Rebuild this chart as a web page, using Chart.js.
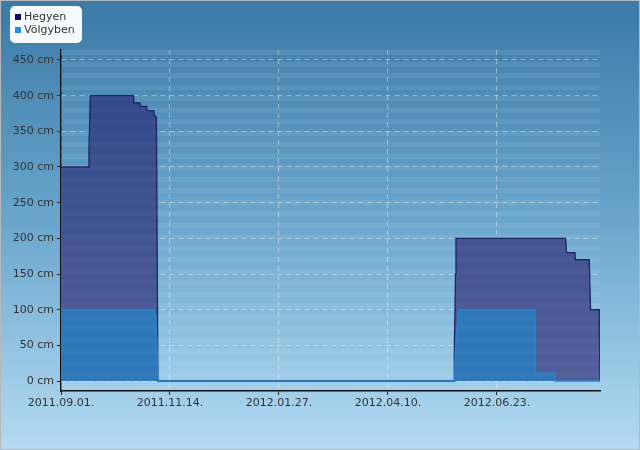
<!DOCTYPE html>
<html>
<head>
<meta charset="utf-8">
<style>
  html, body { margin: 0; padding: 0; background: #fff; }
  #wrap { width: 640px; height: 450px; }
</style>
<script src="https://cdn.jsdelivr.net/npm/chart.js@4.4.0/dist/chart.umd.min.js"></script>
</head>
<body>
<div id="wrap"><canvas id="myChart" width="640" height="450"></canvas></div>
<script>
// series names (legend)
var seriesNames = ['Hegyen', 'Völgyben'];

// days counted from 2011.09.01.
var hegyenDays   = [0, 18.8, 19.0, 19.6, 19.9, 49.0, 49.4, 53.6, 53.8, 58.2, 58.4, 63.1, 63.3, 64.8, 65.8,
                    266.9, 267.1, 267.9, 268.2, 342.6, 343.3, 349.0, 349.3, 358.7, 359.6, 365.5, 366];
var hegyenValues = [300, 300, 325, 375, 400, 400, 390, 390, 385, 385, 379, 379, 372, 370, 0,
                    0, 49, 150, 200, 200, 180, 180, 170, 170, 100, 100, 0];

var volgybenDays   = [0, 63.1, 64.3, 65.0, 65.8, 267.4, 267.9, 270.3, 321.8, 322.1, 335.4, 335.6, 366];
var volgybenValues = [100, 100, 90, 60, 0, 0, 50, 100, 100, 11, 11, 0, 0];

// axis ticks
var xTickDays   = [0, 74, 148, 222, 296];
var xTickLabels = ['2011.09.01.', '2011.11.14.', '2012.01.27.', '2012.04.10.', '2012.06.23.'];
var yTickValues = [0, 50, 100, 150, 200, 250, 300, 350, 400, 450];

var legendColors = ['#0d0d5c', '#1a93dc'];

function toPoints(days, vals) {
    return days.map(function (d, i) { return { x: d, y: vals[i] }; });
}

function stripes(chart, alpha) {
    var a = chart.chartArea, ctx = chart.ctx;
    ctx.save();
    ctx.fillStyle = 'rgba(255,255,255,' + alpha + ')';
    for (var y = a.top; y < a.bottom - 2; y += 11.5) {
        ctx.fillRect(a.left, Math.round(y), a.right - a.left, 5);
    }
    ctx.restore();
}

// background gradient + stripes in plot area
var backgroundPlugin = {
    id: 'bg',
    beforeDraw: function (chart) {
        var ctx = chart.ctx;
        var g = ctx.createLinearGradient(0, 0, 0, chart.height);
        g.addColorStop(0, '#3b7aa6');
        g.addColorStop(0.5, '#6ba7cd');
        g.addColorStop(1, '#b4dbf2');
        ctx.save();
        ctx.fillStyle = g;
        ctx.fillRect(0, 0, chart.width, chart.height);
        ctx.strokeStyle = '#b8b8b8';
        ctx.lineWidth = 1;
        ctx.strokeRect(0.5, 0.5, chart.width - 1, chart.height - 1);
        ctx.restore();
    },
    beforeDatasetsDraw: function (chart) { stripes(chart, 0.05); },
    afterDatasetsDraw: function (chart) { stripes(chart, 0.025); }
};

// legend in a white rounded box
var legendBoxPlugin = {
    id: 'legendBox',
    afterDraw: function (chart) {
        var ctx = chart.ctx;
        ctx.save();
        ctx.fillStyle = '#f7fbff';
        ctx.beginPath();
        ctx.roundRect(10, 6, 72, 37, 5);
        ctx.fill();
        ctx.font = '11px "DejaVu Sans"';
        ctx.textBaseline = 'middle';
        seriesNames.forEach(function (name, i) {
            var y = 17 + i * 13;
            ctx.fillStyle = legendColors[i];
            ctx.fillRect(15, y - 3, 6, 6);
            ctx.fillStyle = '#333';
            ctx.fillText(name, 24, y);
        });
        ctx.restore();
    }
};

var ctx = document.getElementById('myChart').getContext('2d');
var myChart = new Chart(ctx, {
    type: 'line',
    data: {
        datasets: [{
            label: seriesNames[0],
            data: toPoints(hegyenDays, hegyenValues),
            borderColor: '#1b2163',
            borderWidth: 1.3,
            backgroundColor: function (c) {
                var a = c.chart.chartArea;
                if (!a) return '#3f5291';
                var g = c.chart.ctx.createLinearGradient(0, a.top, 0, a.bottom);
                g.addColorStop(0, '#2d4687');
                g.addColorStop(1, '#535f9b');
                return g;
            },
            fill: 'origin',
            pointRadius: 0,
            tension: 0,
            order: 1
        }, {
            label: seriesNames[1],
            data: toPoints(volgybenDays, volgybenValues),
            borderColor: '#2284d2',
            borderWidth: 1.5,
            backgroundColor: '#2e77b8',
            fill: 'origin',
            pointRadius: 0,
            tension: 0,
            order: 0
        }]
    },
    options: {
        responsive: false,
        animation: false,
        devicePixelRatio: 1,
        layout: { padding: { top: 50, right: 40, left: 0, bottom: 0 } },
        plugins: {
            legend: { display: false },
            tooltip: { enabled: false }
        },
        scales: {
            x: {
                type: 'linear',
                min: 0,
                max: 366,
                afterBuildTicks: function (s) {
                    s.ticks = xTickDays.map(function (v) { return { value: v }; });
                },
                afterFit: function (s) { s.height = 59; },
                ticks: {
                    autoSkip: false,
                    maxRotation: 0,
                    padding: 2,
                    color: '#333',
                    font: { family: 'DejaVu Sans', size: 11 },
                    callback: function (v, i) { return xTickLabels[i]; }
                },
                grid: {
                    color: 'rgba(255,255,255,0.4)',
                    tickColor: '#222',
                    tickLength: 4,
                    tickBorderDash: []
                },
                border: { color: '#111', width: 1.5, dash: [5, 4] }
            },
            y: {
                min: -14,
                max: 464,
                afterBuildTicks: function (s) {
                    s.ticks = yTickValues.map(function (v) { return { value: v }; });
                },
                afterFit: function (s) { s.width = 61; },
                ticks: {
                    padding: 3,
                    color: '#333',
                    font: { family: 'DejaVu Sans', size: 11 },
                    callback: function (v) { return v + ' cm'; }
                },
                grid: {
                    color: 'rgba(255,255,255,0.4)',
                    tickColor: '#222',
                    tickLength: 4,
                    tickBorderDash: []
                },
                border: { color: '#111', width: 1.5, dash: [5, 4] }
            }
        }
    },
    plugins: [backgroundPlugin, legendBoxPlugin]
});
</script>
</body>
</html>
